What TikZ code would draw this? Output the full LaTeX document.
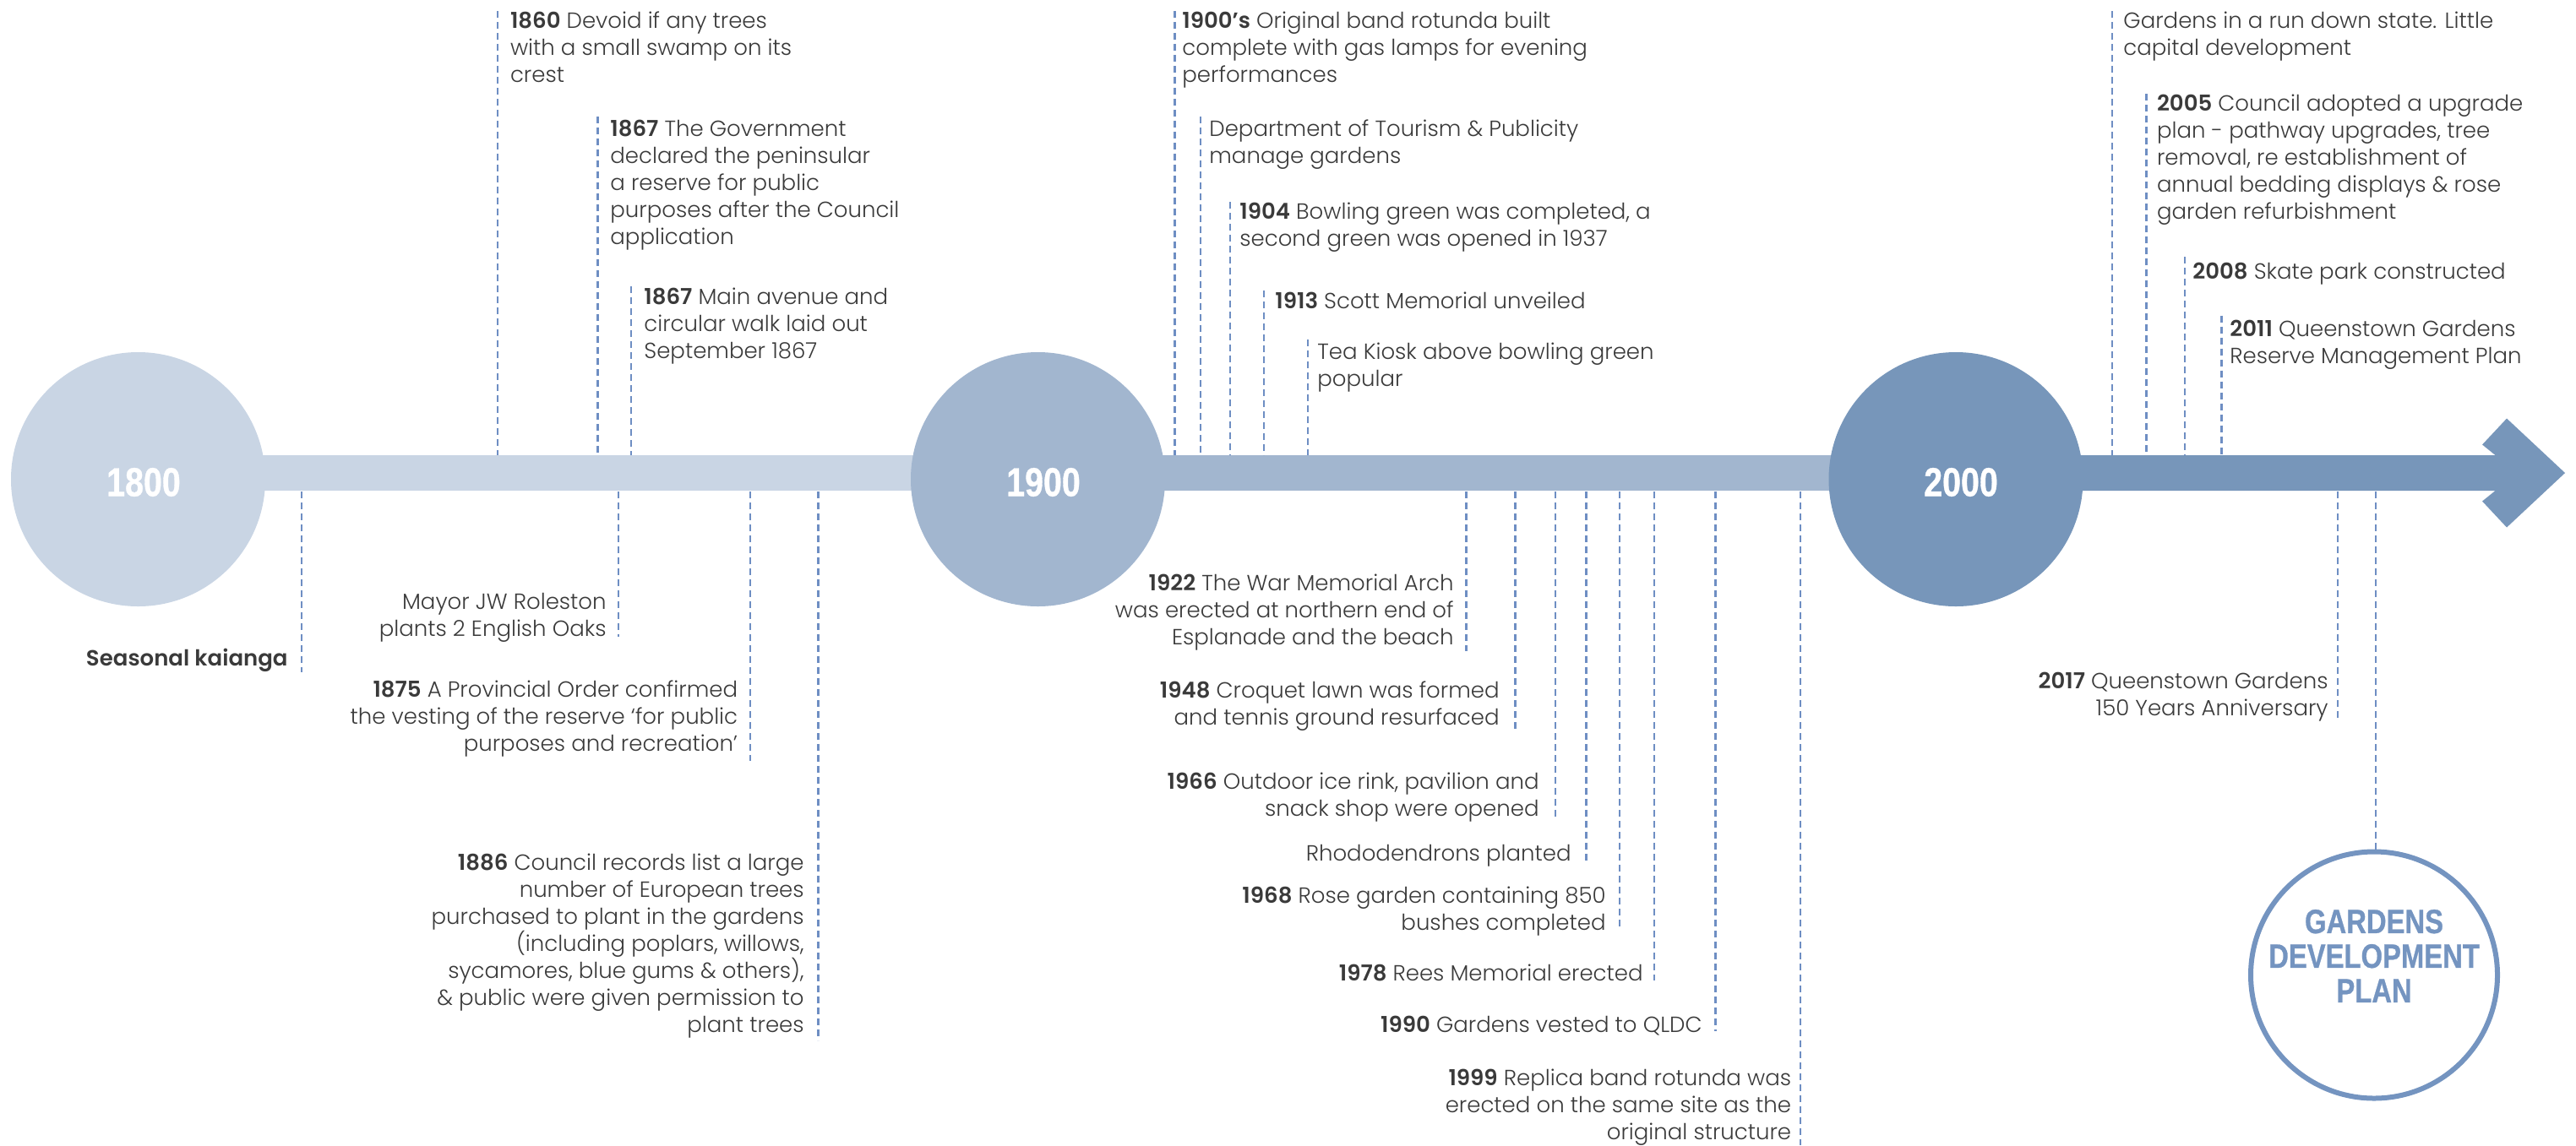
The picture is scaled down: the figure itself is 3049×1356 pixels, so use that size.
\documentclass[tikz,border=0pt]{standalone}
\usepackage{fontspec}
\setmainfont{Poppins}[UprightFont={* Light}, BoldFont={* SemiBold}]
\newfontfamily\yearfont[FakeStretch=0.82, FakeBold=0.7, UprightFont={* Bold}]{Liberation Sans}
\usetikzlibrary{calc}
\definecolor{barA}{HTML}{C9D5E4}
\definecolor{barB}{HTML}{A2B6CF}
\definecolor{barC}{HTML}{7796BA}
\definecolor{leadc}{HTML}{6E8EC3}
\definecolor{txt}{HTML}{3A3A3A}
\definecolor{planc}{HTML}{7494C0}
\begin{document}
\begin{tikzpicture}[x=0.5pt,y=-0.5pt,
  evtxt/.style={inner sep=0pt, text=txt, font=\fontsize{13}{16}\selectfont},
  up/.style={evtxt, anchor=north west, align=left},
  dn/.style={evtxt, anchor=north east, align=right},
  leader/.style={draw=leadc, line width=1.2pt, dash pattern=on 4pt off 2.5pt},
  yearc/.style={circle, minimum size=150.5pt, inner sep=0pt},
  yearlbl/.style={text=white, inner sep=0pt, font=\yearfont\fontsize{24}{28}\selectfont},
  plancirc/.style={circle, draw=planc, line width=3pt, minimum size=146pt, inner sep=0pt},
  planlbl/.style={text=planc, inner sep=0pt, align=center, font=\yearfont\fontsize{20}{20.5}\selectfont}
]
\useasboundingbox (0,0) rectangle (3049,1356);

% bars
\fill[barA] (163,539) rectangle (1228,581);
\fill[barB] (1228,539) rectangle (2170,581);
\fill[barC] (2315,539) -- (2953.5,539) -- (2938,526.5) -- (2967,495.5) -- (3036,560)
  -- (2967,624.5) -- (2938,593.5) -- (2953.5,581) -- (2315,581) -- cycle;

% year circles
\node[yearc, fill=barA] (c1800) at (163.5,567.5) {};
\node[yearc, fill=barB] (c1900) at (1228.5,567.5) {};
\node[yearc, fill=barC] (c2000) at (2315,567.5) {};
\node[yearlbl] (y1800) at (170,571) {1800};
\node[yearlbl] (y1900) at (1235,571) {1900};
\node[yearlbl] (y2000) at (2321,571) {2000};

% leader lines
\foreach \n/\x/\ya/\yb in {
  a/589/13/539, b/707.4/138/539, c/747/339/539,
  d/1390.6/13/539, e/1421/138/539, f/1456/239/539, g/1496/344/539, h/1548/402/539,
  i/2500/13/539, j/2540.5/111/539, k/2586/304/539, l/2629.6/373.6/539,
  m/357/582/796, n/732/582/754, o/888/582/901, p/968.6/582/1232,
  q/1735.6/582/771, r/1793.6/582/865, s/1841/582/970, t/1877.5/582/1020.5,
  u/1917/582/1098, v/1958/582/1161, w/2030.5/582/1221, x/2131/582/1356,
  y/2767/582/850}
{
  \coordinate (L\n1) at (\x,\ya);
  \coordinate (L\n2) at (\x,\yb);
  \draw[leader] (L\n1) -- (L\n2);
}

% events above the line
\node[up] (ea) at (603.6,10.6) {\strut\textbf{1860} Devoid if any trees\\with a small swamp on its\\crest};
\node[up] (eb) at (722,138.6) {\strut\textbf{1867} The Government\\declared the peninsular\\a reserve for public\\purposes after the Council\\application};
\node[up] (ec) at (762,337.6) {\strut\textbf{1867} Main avenue and\\circular walk laid out\\September 1867};
\node[up] (ed) at (1399,10.6) {\strut\textbf{1900’s} Original band rotunda built\\complete with gas lamps for evening\\performances};
\node[up] (ee) at (1431,138.6) {\strut Department of Tourism \& Publicity\\manage gardens};
\node[up] (ef) at (1467,237.1) {\strut\textbf{1904} Bowling green was completed, a\\second green was opened in 1937};
\node[up] (eg) at (1509,342.6) {\strut\textbf{1913} Scott Memorial unveiled};
\node[up] (eh) at (1559,402.2) {\strut Tea Kiosk above bowling green\\popular};
\node[up] (ei) at (2513,10.6) {\strut Gardens in a run down state. Little\\capital development};
\node[up] (ej) at (2552.6,109.1) {\strut\textbf{2005} Council adopted a upgrade\\plan - pathway upgrades, tree\\removal, re establishment of\\annual bedding displays \& rose\\garden refurbishment};
\node[up] (ek) at (2595,307.6) {\strut\textbf{2008} Skate park constructed};
\node[up] (el) at (2639,375.6) {\strut\textbf{2011} Queenstown Gardens\\Reserve Management Plan};

% events below the line
\node[dn] (em) at (341,765.6) {\strut\textbf{Seasonal kaianga}};
\node[dn] (en) at (718,698.6) {\strut Mayor JW Roleston\\plants 2 English Oaks};
\node[dn] (eo) at (873.5,802.6) {\strut\textbf{1875} A Provincial Order confirmed\\the vesting of the reserve ‘for public\\purposes and recreation’};
\node[dn] (ep) at (952,1007.6) {\strut\textbf{1886} Council records list a large\\number of European trees\\purchased to plant in the gardens\\(including poplars, willows,\\sycamores, blue gums \& others),\\\& public were given permission to\\plant trees};
\node[dn] (eq) at (1721,676.6) {\strut\textbf{1922} The War Memorial Arch\\was erected at northern end of\\Esplanade and the beach};
\node[dn] (er) at (1775,803.6) {\strut\textbf{1948} Croquet lawn was formed\\and tennis ground resurfaced};
\node[dn] (es) at (1822,911.6) {\strut\textbf{1966} Outdoor ice rink, pavilion and\\snack shop were opened};
\node[dn] (et) at (1860,996.6) {\strut Rhododendrons planted};
\node[dn] (eu) at (1901,1046.6) {\strut\textbf{1968} Rose garden containing 850\\bushes completed};
\node[dn] (ev) at (1945,1138.6) {\strut\textbf{1978} Rees Memorial erected};
\node[dn] (ew) at (2015,1199.6) {\strut\textbf{1990} Gardens vested to QLDC};
\node[dn] (ex) at (2120.5,1262.6) {\strut\textbf{1999} Replica band rotunda was\\erected on the same site as the\\original structure};
\node[dn] (ey) at (2756,792.6) {\strut\textbf{2017} Queenstown Gardens\\150 Years Anniversary};

% development plan
\node[plancirc] (plan) at (2810,1154.5) {};
\node[planlbl] (planl) at (2810,1132) {GARDENS\\DEVELOPMENT\\PLAN};
\coordinate (Lz1) at (2812,582);
\draw[leader] (Lz1) -- (Lz1 |- plan.north);
\end{tikzpicture}
\end{document}
